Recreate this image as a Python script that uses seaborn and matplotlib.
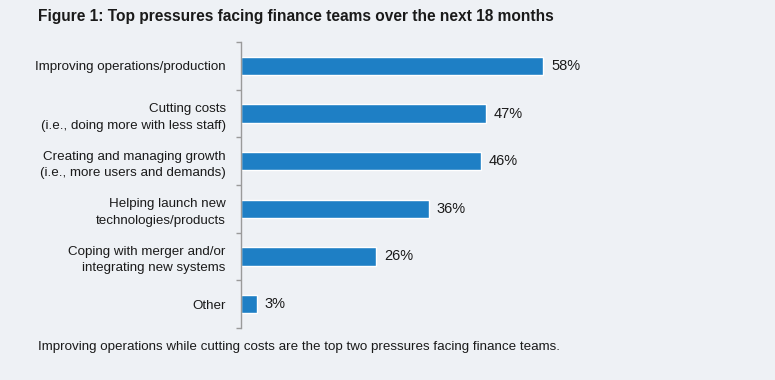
import matplotlib
matplotlib.use("Agg")
import matplotlib.pyplot as plt
import numpy as np
import pandas as pd
import seaborn as sns

# chart data
categories = [
    "Improving operations/production",
    "Cutting costs\n(i.e., doing more with less staff)",
    "Creating and managing growth\n(i.e., more users and demands)",
    "Helping launch new\ntechnologies/products",
    "Coping with merger and/or\nintegrating new systems",
    "Other",
]
shares = [58, 47, 46, 36, 26, 3]

title = "Figure 1: Top pressures facing finance teams over the next 18 months"
footnote = "Improving operations while cutting costs are the top two pressures facing finance teams."

bg = "#eef1f5"
bar_color = "#1e7fc5"

sns.set_theme(style="white")
plt.rcParams["font.family"] = ["Liberation Sans", "DejaVu Sans"]

df = pd.DataFrame({"category": categories, "share": shares})

fig = plt.figure(figsize=(7.75, 3.8), dpi=100, facecolor=bg)
ax = fig.add_axes([241 / 775, 1 - 328 / 380, 1 - 241 / 775, (328 - 42) / 380])
ax.set_facecolor(bg)

sns.barplot(data=df, x="share", y="category", color=bar_color, width=0.38,
            saturation=1, ax=ax)

ax.set_xlim(0, 102.5)
ax.set_ylim(len(categories) - 0.5, -0.5)
ax.set_xlabel("")
ax.set_ylabel("")
ax.set_xticks([])

for side in ["top", "right", "bottom"]:
    ax.spines[side].set_visible(False)
ax.spines["left"].set_color("#9a9a9a")
ax.spines["left"].set_linewidth(1.0)

# category labels, ticks at the boundaries between bars
ax.tick_params(axis="y", which="major", left=True, length=0, pad=11,
               labelsize=9.6, labelcolor="#1a1a1a")
ax.set_yticks(np.arange(-0.5, len(categories)), minor=True)
ax.tick_params(axis="y", which="minor", left=True, length=3.5, width=1.0,
               color="#9a9a9a", direction="out")
for lbl in ax.get_yticklabels():
    lbl.set_linespacing(1.5)

for i, v in enumerate(shares):
    ax.annotate(f"{v}%", xy=(v, i), xytext=(5.8, 0), textcoords="offset points",
                va="center", ha="left", fontsize=10.5, color="#1a1a1a")

fig.text(38 / 775, 1 - 17 / 380, title, fontsize=11.2, fontweight="bold",
         color="#1a1a1a", ha="left", va="center")
fig.text(38 / 775, 1 - 347 / 380, footnote, fontsize=9.6, color="#1a1a1a",
         ha="left", va="center")

fig.savefig("out.png", dpi=100, facecolor=bg)
